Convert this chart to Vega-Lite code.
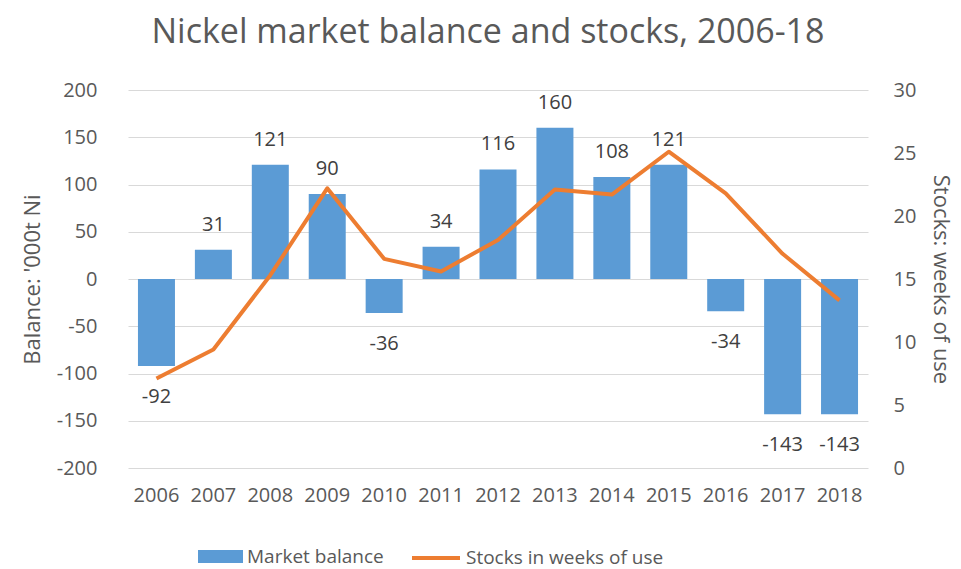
{
  "$schema": "https://vega.github.io/schema/vega-lite/v6.json",
  "width": 740,
  "height": 378,
  "autosize": "none",
  "padding": {"left": 128, "top": 90, "right": 93, "bottom": 101},
  "background": "white",
  "config": {
    "font": "Open Sans",
    "view": {"stroke": null},
    "axis": {"labelFont": "Open Sans", "titleFont": "Open Sans", "labelColor": "#595959", "titleColor": "#595959", "titleFontWeight": "normal", "domain": false, "ticks": false}
  },
  "title": {"text": "Nickel market balance and stocks, 2006-18", "fontSize": 34, "font": "Open Sans", "fontWeight": "normal", "color": "#595959", "offset": 30, "dx": -10},
  "data": {"values": [
    {"year": "2006", "balance": -92, "weeks": 7.1},
    {"year": "2007", "balance": 31, "weeks": 9.4},
    {"year": "2008", "balance": 121, "weeks": 15.3},
    {"year": "2009", "balance": 90, "weeks": 22.2},
    {"year": "2010", "balance": -36, "weeks": 16.6},
    {"year": "2011", "balance": 34, "weeks": 15.6},
    {"year": "2012", "balance": 116, "weeks": 18.1},
    {"year": "2013", "balance": 160, "weeks": 22.1},
    {"year": "2014", "balance": 108, "weeks": 21.7},
    {"year": "2015", "balance": 121, "weeks": 25.1},
    {"year": "2016", "balance": -34, "weeks": 21.8},
    {"year": "2017", "balance": -143, "weeks": 17.0},
    {"year": "2018", "balance": -143, "weeks": 13.3}
  ]},
  "encoding": {
    "x": {"field": "year", "type": "nominal", "title": null,
      "scale": {"paddingInner": 0.35, "paddingOuter": 0.175},
      "axis": {"labelAngle": 0, "labelFontSize": 20, "labelPadding": 17, "grid": false}}
  },
  "layer": [
    {
      "encoding": {
        "y": {"field": "balance", "type": "quantitative", "scale": {"domain": [-200, 200]},
          "axis": {"values": [-200, -150, -100, -50, 0, 50, 100, 150, 200], "labelExpr": "'' + datum.value", "labelFontSize": 20, "labelPadding": 31, "title": "Balance: '000t Ni", "titleFontSize": 22, "titlePadding": 12, "grid": true, "gridColor": "#D9D9D9", "gridWidth": 1}}
      },
      "layer": [
        {"mark": {"type": "bar"},
          "encoding": {"fill": {"datum": "Market balance", "type": "nominal", "scale": {"domain": ["Market balance"], "range": ["#5B9BD5"]},
            "legend": {"title": null, "orient": "none", "legendX": 70, "legendY": 444, "padding": 0, "labelLimit": 400, "labelFontSize": 19, "labelColor": "#595959", "labelFont": "Open Sans", "symbolType": "M-1,-0.29H1V0.29H-1Z", "symbolSize": 2025, "symbolStrokeWidth": 0, "symbolOpacity": 1, "labelOffset": 4}}}},
        {"transform": [{"filter": "datum.balance >= 0"}],
          "mark": {"type": "text", "baseline": "bottom", "dy": -15, "fontSize": 20, "color": "#404040", "font": "Open Sans"},
          "encoding": {"text": {"field": "balance", "type": "nominal"}}},
        {"transform": [{"filter": "datum.balance < 0"}],
          "mark": {"type": "text", "baseline": "top", "dy": 21, "fontSize": 20, "color": "#404040", "font": "Open Sans"},
          "encoding": {"text": {"field": "balance", "type": "nominal"}}}
      ]
    },
    {
      "mark": {"type": "line", "strokeWidth": 4, "strokeJoin": "round"},
      "encoding": {
        "y": {"field": "weeks", "type": "quantitative", "scale": {"domain": [0, 30]},
          "axis": {"orient": "right", "values": [0, 5, 10, 15, 20, 25, 30], "labelFontSize": 20, "labelPadding": 25, "title": "Stocks: weeks of use", "titleFontSize": 22, "titlePadding": 13, "grid": false}},
        "stroke": {"datum": "Stocks in weeks of use", "type": "nominal", "scale": {"domain": ["Stocks in weeks of use"], "range": ["#ED7D31"]},
          "legend": {"title": null, "orient": "none", "legendX": 282, "legendY": 442, "padding": 0, "labelLimit": 400, "labelFontSize": 19, "labelColor": "#595959", "labelFont": "Open Sans", "symbolType": "stroke", "symbolSize": 2304, "symbolStrokeWidth": 4, "labelOffset": 4}}
      }
    }
  ],
  "resolve": {"scale": {"y": "independent", "fill": "independent", "stroke": "independent"}}
}
